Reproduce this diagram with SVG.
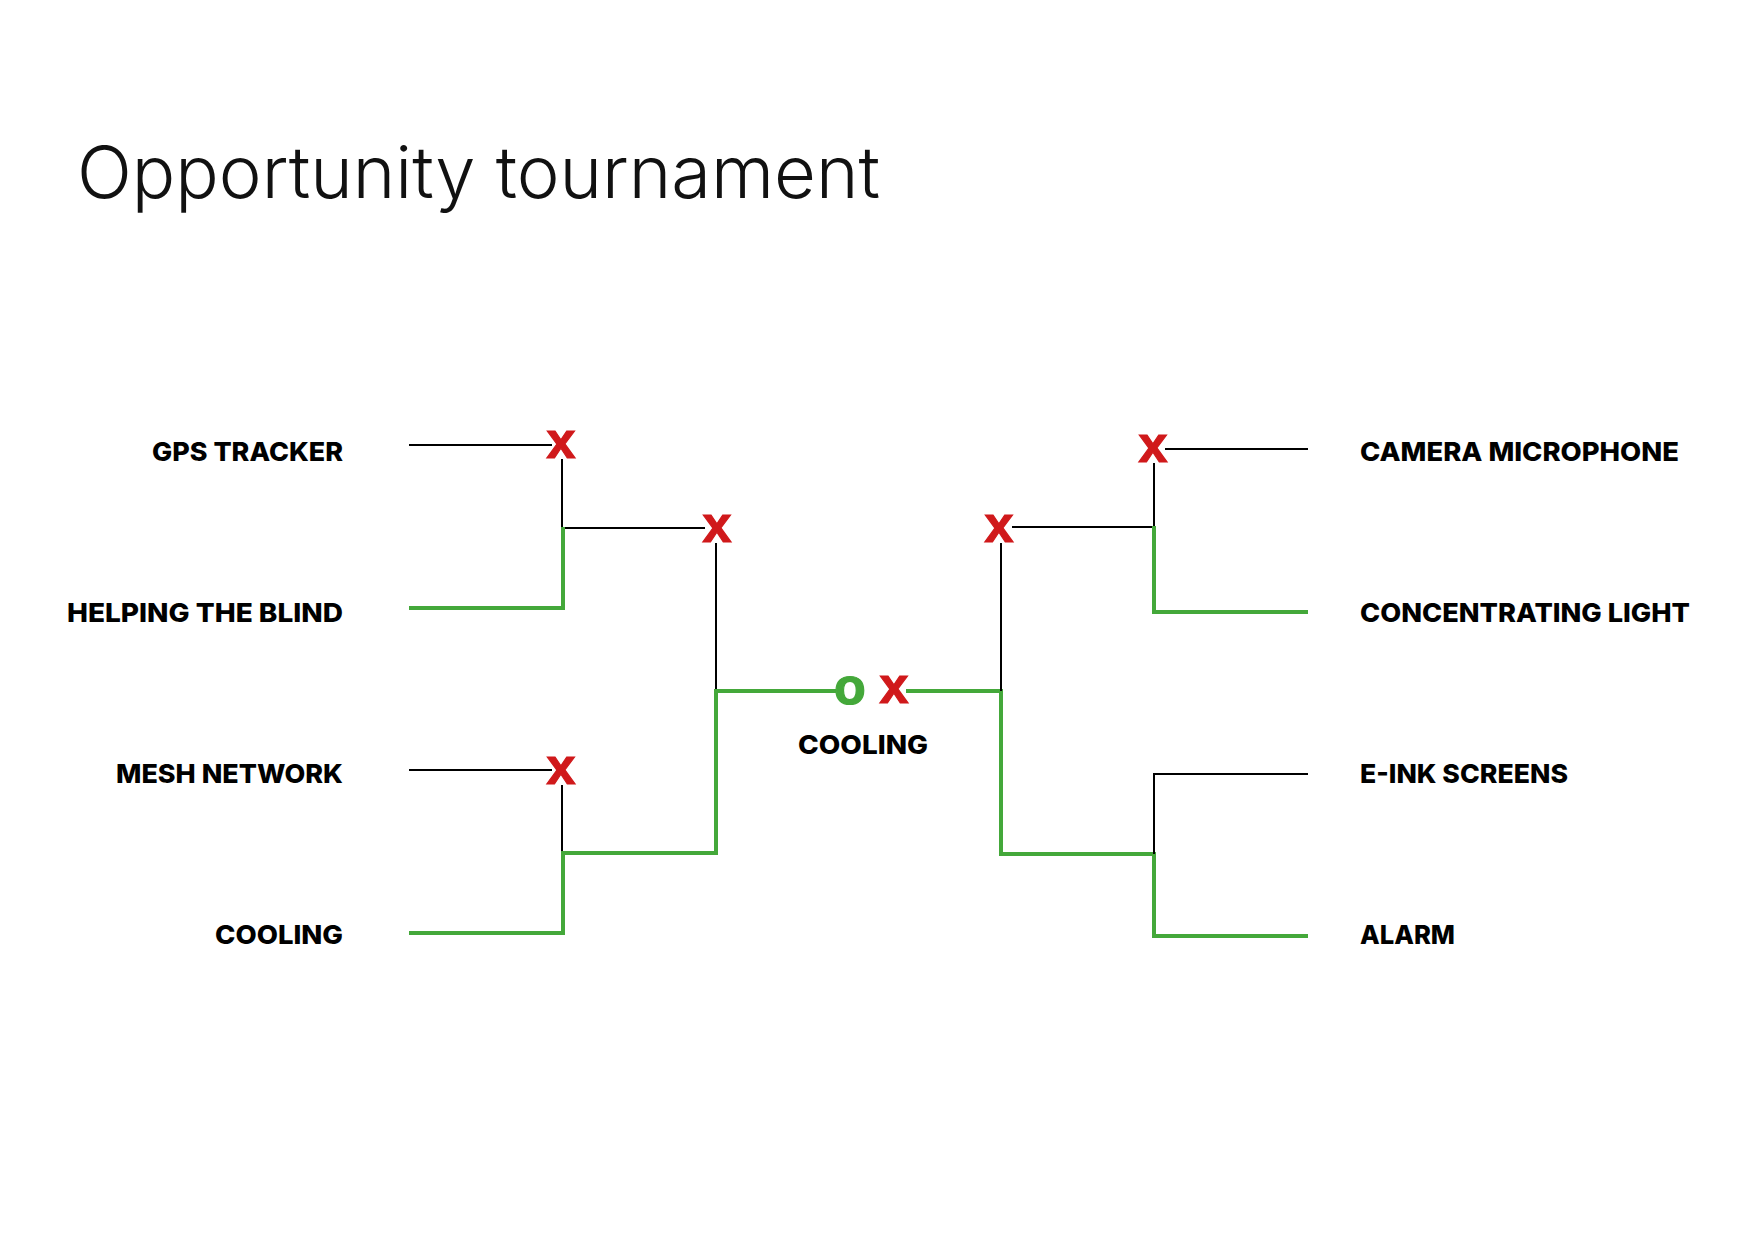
<svg xmlns="http://www.w3.org/2000/svg" width="1754" height="1240" viewBox="0 0 1754 1240">
<style>
.title{font-family:Inter,"Liberation Sans",sans-serif;font-weight:300;font-size:72px;fill:#111}
.lbl{font-family:Inter,"Liberation Sans",sans-serif;font-weight:800;font-size:26px;fill:#000}
.l{text-anchor:end}
.mk{font-family:"Liberation Sans",Arial,sans-serif;font-weight:700;font-size:52px;text-anchor:middle}
.x{fill:#d0191b;stroke:#d0191b;stroke-width:1.2}
.o{fill:#44a83a;stroke:#44a83a;stroke-width:1.2}
.bk{fill:none;stroke:#000;stroke-width:2}
.gr{fill:none;stroke:#44a83a;stroke-width:4;stroke-linejoin:miter;stroke-linecap:butt}
</style>
<rect width="1754" height="1240" fill="#fff"/>
<text class="title" x="77" y="198" textLength="803" lengthAdjust="spacingAndGlyphs">Opportunity tournament</text>
<g id="connectors">
<path class="bk" d="M409 445 H552"/>
<path class="bk" d="M562 459 V528 H705"/>
<path class="bk" d="M716 543 V691"/>
<path class="bk" d="M409 770 H552"/>
<path class="bk" d="M562 785 V853"/>
<path class="gr" d="M409 608 H563 V527"/>
<path class="gr" d="M409 933 H563 V853 H716 V691 H836"/>
<path class="gr" d="M906 691 H1001 V854 H1154 V936 H1308"/>
<path class="bk" d="M1001 543 V691"/>
<path class="bk" d="M1165 449 H1308"/>
<path class="bk" d="M1154 463 V527 H1012"/>
<path class="gr" d="M1154 526 V612 H1308"/>
<path class="bk" d="M1308 774 H1154 V854"/>
</g>
<g id="marks">
<text class="mk x" x="561" y="458">x</text>
<text class="mk x" x="717" y="542">x</text>
<text class="mk x" x="561" y="784">x</text>
<text class="mk x" x="1153" y="462">x</text>
<text class="mk x" x="999" y="542">x</text>
<text class="mk o" x="850" y="704">o</text>
<text class="mk x" x="894" y="703">x</text>
</g>
<g id="n-gps"><text class="lbl l" x="343" y="461" textLength="191" lengthAdjust="spacingAndGlyphs">GPS TRACKER</text></g>
<g id="n-blind"><text class="lbl l" x="343" y="622" textLength="276" lengthAdjust="spacingAndGlyphs">HELPING THE BLIND</text></g>
<g id="n-mesh"><text class="lbl l" x="343" y="783" textLength="227" lengthAdjust="spacingAndGlyphs">MESH NETWORK</text></g>
<g id="n-cooling"><text class="lbl l" x="343" y="944" textLength="128" lengthAdjust="spacingAndGlyphs">COOLING</text></g>
<g id="n-camera"><text class="lbl" x="1360" y="461" textLength="319" lengthAdjust="spacingAndGlyphs">CAMERA MICROPHONE</text></g>
<g id="n-light"><text class="lbl" x="1360" y="622" textLength="330" lengthAdjust="spacingAndGlyphs">CONCENTRATING LIGHT</text></g>
<g id="n-eink"><text class="lbl" x="1360" y="783" textLength="208" lengthAdjust="spacingAndGlyphs">E-INK SCREENS</text></g>
<g id="n-alarm"><text class="lbl" x="1360" y="944" textLength="95" lengthAdjust="spacingAndGlyphs">ALARM</text></g>
<g id="n-winner"><text class="lbl" x="798" y="754" textLength="130" lengthAdjust="spacingAndGlyphs">COOLING</text></g>
</svg>
